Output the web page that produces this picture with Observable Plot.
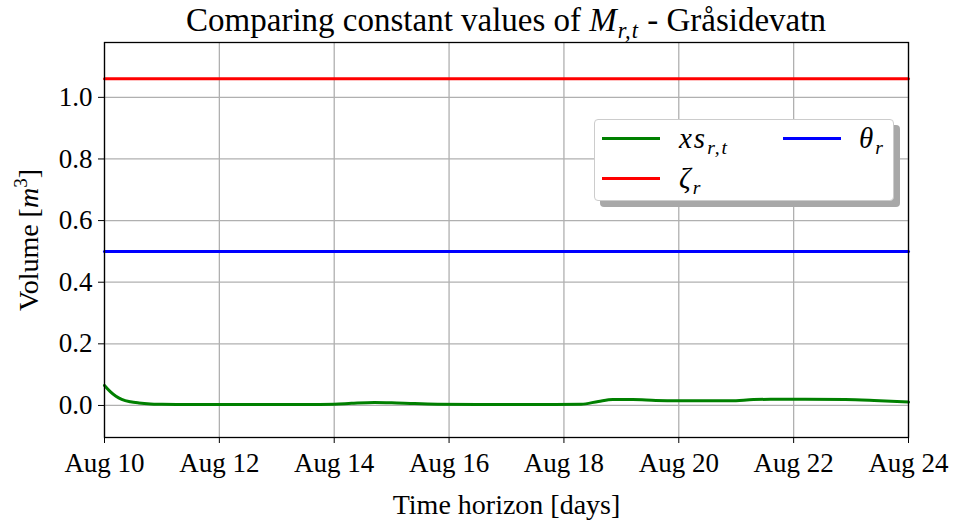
<!DOCTYPE html>
<html>
<head>
<meta charset="utf-8">
<script src="https://cdn.jsdelivr.net/npm/d3@7"></script>
<script src="https://cdn.jsdelivr.net/npm/@observablehq/plot@0.6"></script>
<style>
  html, body { margin: 0; padding: 0; background: #fff; overflow: hidden; }
  #wrap { position: relative; width: 955px; height: 522px; font-family: "Liberation Serif", serif; color: #000; }
  #title { box-sizing: border-box; height: 38px; padding-top: 3px; width: 804px; margin-left: 104px; text-align: center; font-size: 33px; line-height: 34px; white-space: nowrap; }
  #title i { letter-spacing: 1px; }
  #title sub, #legend sub { font-size: 68%; vertical-align: -0.3em; line-height: 0; }
  #legend { position: absolute; left: 594px; top: 119px; width: 300px; height: 82px; box-sizing: border-box;
            background: #fff; border: 1.5px solid #cccccc; border-radius: 4px; box-shadow: 6px 6px 0 #a8a8a8; font-size: 29px; }
  .sw { position: absolute; height: 3px; width: 58px; }
  .lt { position: absolute; font-style: italic; white-space: nowrap; line-height: 28px; letter-spacing: 2px; }
  svg { display: block; }
</style>
</head>
<body>
<div id="wrap">
  <div id="title">Comparing constant values of <i>M</i><sub><i>r,t</i></sub> - Gråsidevatn</div>
  <div id="chart"></div>
  <div id="legend"></div>
</div>
<script>
// ---- data ----
const startDate = [2023, 7, 10];             // Aug 10 (year arbitrary)
const xsDays = [0, 0.1, 0.2, 0.3, 0.45, 0.6, 0.8, 1.0, 1.5, 2, 3, 3.5, 4.0, 4.3, 4.7, 5.0, 5.4, 5.8, 6.5, 7.5, 8.3, 8.6, 8.85, 9.2, 9.6, 10.0, 10.5, 10.9, 11.3, 11.6, 12.2, 12.9, 13.4, 14.0];
const xsValues = [0.065, 0.045, 0.030, 0.020, 0.012, 0.008, 0.005, 0.004, 0.003, 0.003, 0.003, 0.003, 0.004, 0.007, 0.010, 0.009, 0.006, 0.004, 0.003, 0.003, 0.004, 0.013, 0.019, 0.019, 0.016, 0.015, 0.015, 0.015, 0.019, 0.020, 0.020, 0.019, 0.016, 0.011];
const zetaValue = 1.06;
const thetaValue = 0.5;
const horizonDays = [0, 14];
const xTickDays = [0, 2, 4, 6, 8, 10, 12, 14];
const yTicks = [0.0, 0.2, 0.4, 0.6, 0.8, 1.0];
const yDomain = [-0.104, 1.178];
const seriesColors = {xs: "#008000", zeta: "#ff0000", theta: "#0000ff"};
const xLabel = "Time horizon [days]";
const yLabel = "Volume [m3]";

// ---- build ----
const t0 = Date.UTC(startDate[0], startDate[1], startDate[2]);
const toDate = d => new Date(t0 + d * 864e5);
const xsData = xsDays.map((d, i) => ({date: toDate(d), value: xsValues[i]}));
const zetaData = horizonDays.map(d => ({date: toDate(d), value: zetaValue}));
const thetaData = horizonDays.map(d => ({date: toDate(d), value: thetaValue}));
const xTicks = xTickDays.map(toDate);
const fmt = d3.utcFormat("%b %-d");

const plot = Plot.plot({
  width: 955,
  height: 484,
  marginLeft: 104,
  marginRight: 47,
  marginTop: 4,
  marginBottom: 85,
  style: {fontFamily: "Liberation Serif, serif", fontSize: "27px", color: "#000", background: "#fff"},
  x: {type: "utc", domain: horizonDays.map(toDate)},
  y: {domain: yDomain},
  marks: [
    Plot.gridX(xTicks, {stroke: "#b0b0b0", strokeOpacity: 1, strokeWidth: 1.3}),
    Plot.gridY(yTicks, {stroke: "#b0b0b0", strokeOpacity: 1, strokeWidth: 1.3}),
    Plot.lineY(zetaData, {x: "date", y: "value", stroke: seriesColors.zeta, strokeWidth: 3}),
    Plot.lineY(thetaData, {x: "date", y: "value", stroke: seriesColors.theta, strokeWidth: 3}),
    Plot.lineY(xsData, {x: "date", y: "value", stroke: seriesColors.xs, strokeWidth: 3, curve: "monotone-x"}),
    Plot.frame({stroke: "#000", strokeWidth: 1.3}),
    Plot.axisX({ticks: xTicks, tickFormat: fmt, tickSize: 6, tickPadding: 9, label: null}),
    Plot.axisY({ticks: yTicks, tickFormat: d3.format(".1f"), tickSize: 6, tickPadding: 6, label: null}),
    Plot.axisX({ticks: [], tickSize: 0, label: xLabel, labelAnchor: "center", labelOffset: 76, labelArrow: "none", fontSize: "28px"}),
    Plot.axisY({ticks: [], tickSize: 0, label: yLabel, labelAnchor: "center", labelOffset: 86, labelArrow: "none", fontSize: "28px"})
  ]
});
document.getElementById("chart").appendChild(plot);

// y-axis label with italic m and superscript 3
const yl = plot.querySelector('[aria-label="y-axis label"] text');
if (yl) {
  yl.textContent = "";
  const ns = "http://www.w3.org/2000/svg";
  const parts = [["Volume [", {}], ["m", {"font-style": "italic"}], ["3", {dy: "-11", "font-size": "19"}], ["]", {dy: "11"}]];
  for (const [txt, attrs] of parts) {
    const ts = document.createElementNS(ns, "tspan");
    for (const k in attrs) ts.setAttribute(k, attrs[k]);
    ts.textContent = txt;
    yl.appendChild(ts);
  }
}

// legend
const legend = document.getElementById("legend");
const legendItems = [
  {key: "xs", html: "xs<sub>r,t</sub>", left: 7, top: 17, tl: 84},
  {key: "theta", html: "θ<sub>r</sub>", left: 188, top: 17, tl: 264},
  {key: "zeta", html: "ζ<sub>r</sub>", left: 7, top: 57, tl: 84}
];
for (const it of legendItems) {
  const s = document.createElement("div");
  s.className = "sw";
  s.style.left = it.left + "px"; s.style.top = it.top + "px";
  s.style.background = seriesColors[it.key];
  legend.appendChild(s);
  const t = document.createElement("div");
  t.className = "lt";
  t.style.left = it.tl + "px"; t.style.top = (it.top - 13) + "px";
  t.innerHTML = it.html;
  legend.appendChild(t);
}
</script>
</body>
</html>
